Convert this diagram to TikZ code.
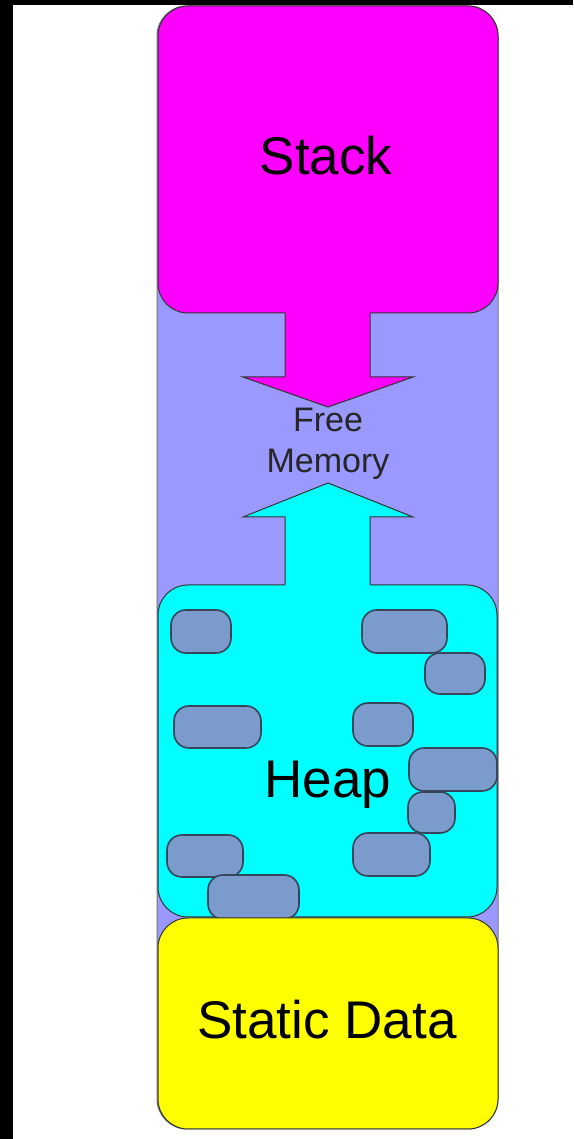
\documentclass[tikz,border=0pt]{standalone}
\usepackage{fontspec}
\setmainfont{Liberation Sans}
\definecolor{stackc}{HTML}{FF00FF}
\definecolor{freec}{HTML}{9999FF}
\definecolor{heapc}{HTML}{00FFFF}
\definecolor{staticc}{HTML}{FFFF00}
\definecolor{blockc}{HTML}{7B9BCC}
\definecolor{edgec}{HTML}{333333}
\definecolor{blockedge}{HTML}{36455A}
\tikzset{
  region/.style={draw=edgec, line width=1pt, inner sep=0pt, outer sep=0pt},
  blk/.style={draw=blockedge, line width=1.6pt, fill=blockc},
  bigtxt/.style={font=\fontsize{53}{60}\selectfont, anchor=base, inner sep=0pt},
  smalltxt/.style={font=\fontsize{34}{40}\selectfont, text=black!85, anchor=base, inner sep=0pt},
  arrowfill/.style={line width=1pt, draw=edgec}
}
% rounded box: #1 style, #2 left, #3 top, #4 right, #5 bottom, #6 radius
\newcommand{\rbox}[6]{%
  \path[#1] (#2+#6,#3) -- (#4-#6,#3) arc[start angle=90,end angle=0,radius=#6pt]
   -- (#4,#5-#6) arc[start angle=0,end angle=-90,radius=#6pt]
   -- (#2+#6,#5) arc[start angle=-90,end angle=-180,radius=#6pt]
   -- (#2,#3+#6) arc[start angle=180,end angle=90,radius=#6pt] -- cycle;}
\begin{document}
\begin{tikzpicture}[x=1pt,y=1pt]
\useasboundingbox (0,0) rectangle (573,1139);
\fill[white] (0,0) rectangle (573,1139);
\fill[black] (0,0) rectangle (13,1139);
\fill[black] (0,1134) rectangle (573,1139);
\begin{scope}[yscale=-1, yshift=-1139pt]
\end{scope}
% work in flipped coordinates: y_tikz = 1139 - y_px
\begin{scope}[shift={(0,1139)}, y=-1pt]
% outer free memory column
\rbox{draw=black!55, line width=1pt, fill=freec}{157}{6}{498}{1129}{30}
\node[inner sep=0pt] (outer) at (327.5,567.5) {};
% stack
\rbox{region, fill=stackc}{158}{6}{498}{313}{30}
\node[inner sep=0pt] (stack) at (328,160) {};
\coordinate (sa1) at (285,313);
\coordinate (sa2) at (370,313);
\fill[stackc] (285,305) -- (285,377) -- (243,377) -- (328,407) -- (413,377) -- (370,377) -- (370,305) -- cycle;
\draw[arrowfill] (sa1) -- (285,377) -- (243,377) -- (328,407) coordinate (stip) -- (413,377) -- (370,377) -- (sa2);
\node[bigtxt] (stacktxt) at (326,175) {Stack};
% free memory text
\node[smalltxt] (free) at (328,432) {Free};
\node[smalltxt] (memory) at (328,473) {Memory};
% heap
\rbox{region, fill=heapc}{158}{585}{497}{917}{30}
\node[inner sep=0pt] (heap) at (327.5,751) {};
\coordinate (ha1) at (285,585);
\coordinate (ha2) at (370,585);
\fill[heapc] (285,593) -- (285,517) -- (243,517) -- (328,483) -- (413,517) -- (370,517) -- (370,593) -- cycle;
\draw[arrowfill] (ha1) -- (285,517) -- (243,517) -- (328,483) coordinate (htip) -- (413,517) -- (370,517) -- (ha2);
% heap blocks
\rbox{blk}{171}{610}{231}{653}{15}
\rbox{blk}{362}{610}{447}{653}{15}
\rbox{blk}{425}{653}{485}{694}{15}
\rbox{blk}{174}{706}{261}{748}{15}
\rbox{blk}{353}{703}{413}{746}{15}
\rbox{blk}{409}{748}{497}{791}{15}
\rbox{blk}{408}{792}{455}{833}{15}
\rbox{blk}{167}{835}{243}{877}{15}
\rbox{blk}{353}{833}{430}{876}{15}
\rbox{blk}{208}{875}{299}{919}{15}
\node[bigtxt] (heaptxt) at (328,798) {Heap};
% static data
\rbox{region, fill=staticc}{158}{918}{498}{1129}{30}
\node[inner sep=0pt] (static) at (328,1023.5) {};
\node[bigtxt] (statictxt) at (327,1039) {Static Data};
\end{scope}
\end{tikzpicture}
\end{document}
